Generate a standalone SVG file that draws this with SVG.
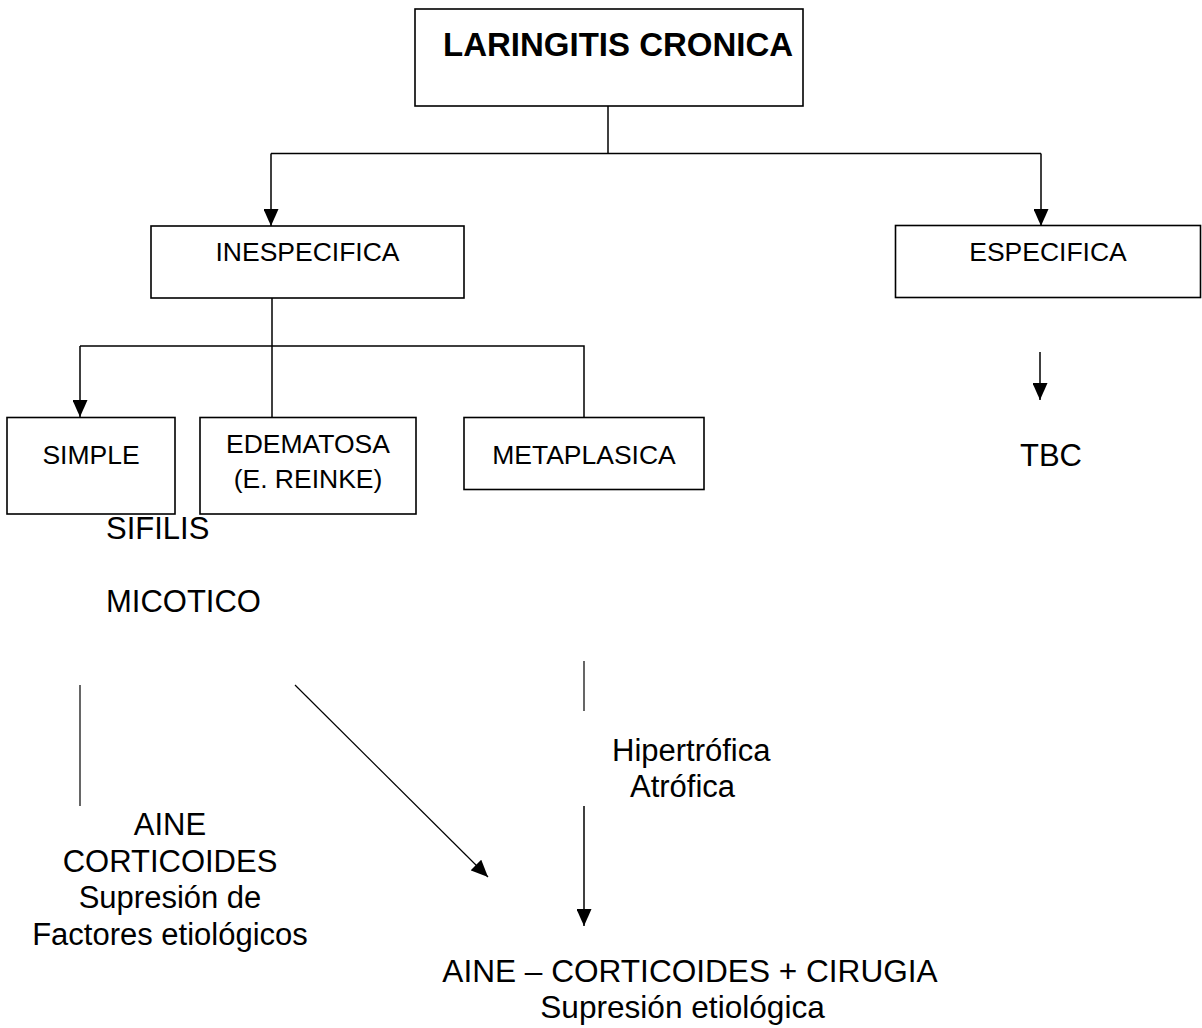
<svg xmlns="http://www.w3.org/2000/svg" width="1202" height="1028" viewBox="0 0 1202 1028">
<style>
.box{fill:#fff;stroke:#000;stroke-width:1.6}
.t{font-family:"Liberation Sans",Arial,sans-serif;fill:#000}
.lbl{font-size:26.5px}
.big{font-size:31px}
.bot{font-size:31.6px}
.ttl{font-size:33px;font-weight:bold}
.c{fill:none;stroke:#000;stroke-width:1.5}
.thin{fill:none;stroke:#000;stroke-width:1.2}
</style>
<defs>
<marker id="ah" viewBox="0 0 17 15" refX="17" refY="7.5" markerWidth="17" markerHeight="15" markerUnits="userSpaceOnUse" orient="auto">
<path d="M0,0 L17,7.5 L0,15 z" fill="#000"/>
</marker>
</defs>
<rect width="1202" height="1028" fill="#fff"/>
<g id="connectors">
<path class="c" d="M608,106 V153.5"/>
<path class="c" d="M271,153.5 H1041"/>
<path class="c" d="M271,153.5 V226" marker-end="url(#ah)"/>
<path class="c" d="M1041,153.5 V226" marker-end="url(#ah)"/>
<path class="c" d="M272,298 V417"/>
<path class="c" d="M80,346 H584 V417"/>
<path class="c" d="M80,346 V417" marker-end="url(#ah)"/>
<path class="c" d="M1040,352 V400" marker-end="url(#ah)"/>
<path class="thin" d="M80,685 V806"/>
<path class="thin" d="M295,685 L488,877" marker-end="url(#ah)"/>
<path class="thin" d="M584,661 V711"/>
<path class="c" d="M584,806 V926" marker-end="url(#ah)"/>
</g>
<g id="laringitis">
<rect class="box" x="415" y="9" width="388" height="97"/>
<text class="t ttl" x="443" y="56">LARINGITIS CRONICA</text>
</g>
<g id="inespecifica">
<rect class="box" x="151" y="226" width="313" height="72"/>
<text class="t lbl" x="307.5" y="261" text-anchor="middle">INESPECIFICA</text>
</g>
<g id="especifica">
<rect class="box" x="895.5" y="225.5" width="305" height="72"/>
<text class="t lbl" x="1048" y="261" text-anchor="middle">ESPECIFICA</text>
</g>
<g id="simple">
<rect class="box" x="7" y="417.5" width="168" height="96.5"/>
<text class="t lbl" x="91" y="464" text-anchor="middle">SIMPLE</text>
</g>
<g id="edematosa">
<rect class="box" x="200" y="417.5" width="216" height="96.5"/>
<text class="t lbl" x="308" y="453" text-anchor="middle">EDEMATOSA</text>
<text class="t lbl" x="308" y="487.5" text-anchor="middle">(E. REINKE)</text>
</g>
<g id="metaplasica">
<rect class="box" x="464" y="417.5" width="240" height="72"/>
<text class="t lbl" x="584" y="464" text-anchor="middle">METAPLASICA</text>
</g>
<g id="tbc">
<text class="t big" x="1020" y="466">TBC</text>
</g>
<g id="sifilis">
<text class="t big" x="106" y="539">SIFILIS</text>
</g>
<g id="micotico">
<text class="t big" x="106" y="612">MICOTICO</text>
</g>
<g id="hipertrofica">
<text class="t big" x="612" y="761">Hipertrófica</text>
<text class="t big" x="630" y="797">Atrófica</text>
</g>
<g id="tratamiento-simple">
<text class="t big" x="170" y="835" text-anchor="middle">AINE</text>
<text class="t big" x="170" y="872" text-anchor="middle">CORTICOIDES</text>
<text class="t big" x="170" y="908" text-anchor="middle">Supresión de</text>
<text class="t big" x="170" y="945" text-anchor="middle">Factores etiológicos</text>
</g>
<g id="tratamiento-cirugia">
<text class="t bot" x="690" y="982" text-anchor="middle">AINE – CORTICOIDES + CIRUGIA</text>
<text class="t bot" x="682.5" y="1018" text-anchor="middle">Supresión etiológica</text>
</g>
</svg>
